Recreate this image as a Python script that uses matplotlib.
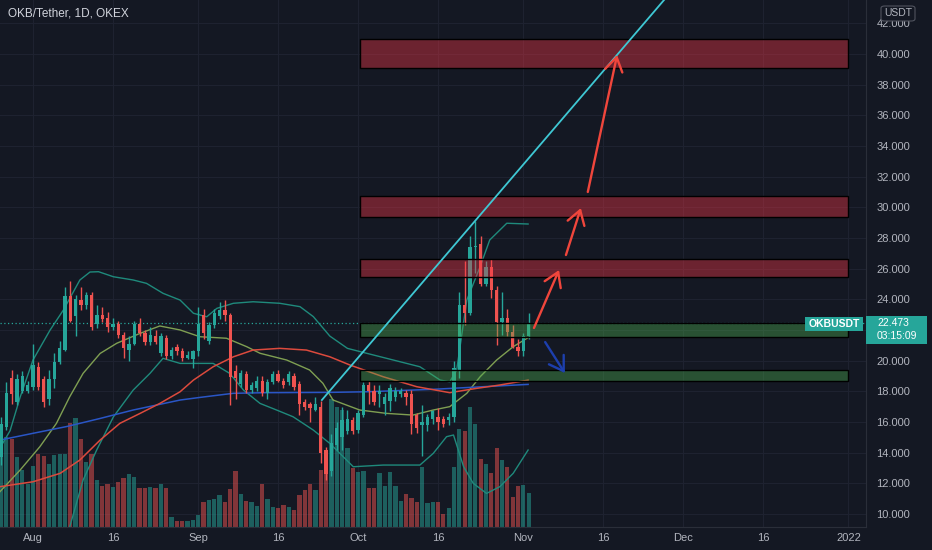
import numpy as np
import matplotlib as mpl
import matplotlib.pyplot as plt
from matplotlib.patches import Rectangle, FancyBboxPatch
from matplotlib.transforms import blended_transform_factory

mpl.rcParams['font.family'] = ['Liberation Sans', 'DejaVu Sans']

#---------------------------------------------------------------------------------------------------
# Data (day index: 0 = 1 Aug 2021)
#---------------------------------------------------------------------------------------------------

days = list(range(-6, 94))
opens = [13.7, 15.7, 18.9, 17.3, 18.0, 18.0, 18.3, 19.6, 18.8, 17.5, 18.8, 19.9, 20.7, 24.2, 22.9, 23.95,
         23.6, 24.3, 22.4, 23.0, 22.8, 22.2, 22.4, 21.7, 20.7, 21.1, 22.4, 21.8, 21.2, 21.6, 20.5, 21.5,
         20.3, 20.9, 20.6, 20.2, 20.1, 20.6, 23.0, 21.3, 22.3, 22.9, 23.3, 23.0, 19.3, 18.5, 19.1, 18.1,
         18.2, 18.7, 17.9, 18.6, 19.1, 18.7, 18.6, 19.0, 18.5, 17.3, 17.2, 16.8, 17.0, 14.2, 12.8, 14.5,
         15.0, 15.4, 16.1, 15.5, 16.45, 18.4, 18.0, 17.8, 17.2, 17.4, 17.65, 17.8, 17.9, 17.8, 16.45, 15.8,
         15.8, 16.2, 16.3, 16.2, 16.1, 16.3, 19.4, 23.6, 23.1, 27.4, 27.6, 25.0, 26.1, 24.6, 22.5, 22.8,
         21.9, 20.9, 20.6, 21.6]
highs = [16.3, 18.6, 19.4, 19.1, 19.3, 18.7, 21.1, 19.9, 19.0, 19.4, 20.5, 21.3, 24.8, 25.2, 24.3, 24.8,
         24.5, 24.5, 23.6, 23.5, 23.2, 22.8, 22.6, 21.9, 21.6, 22.6, 22.8, 22.0, 22.2, 22.0, 21.8, 21.7,
         20.9, 21.1, 20.8, 20.6, 20.7, 23.5, 23.4, 22.5, 23.4, 23.8, 23.95, 23.1, 19.7, 19.4, 19.3, 18.6,
         19.0, 19.0, 18.8, 19.3, 19.4, 18.9, 19.3, 19.2, 18.7, 17.5, 17.3, 17.6, 17.4, 14.4, 15.2, 16.0,
         17.0, 16.8, 16.3, 16.8, 18.6, 18.7, 18.4, 18.4, 17.9, 18.5, 18.3, 18.2, 18.1, 18.1, 16.6, 17.1,
         16.5, 16.8, 16.9, 16.4, 16.6, 20.0, 24.5, 26.5, 28.1, 29.1, 28.1, 26.5, 26.6, 24.9, 24.5, 23.4,
         22.3, 21.4, 21.8, 23.1]
lows = [13.2, 15.5, 17.2, 17.1, 17.9, 17.9, 18.1, 18.1, 17.0, 17.1, 18.2, 19.8, 20.6, 22.5, 21.6, 23.3,
        23.4, 22.0, 22.1, 22.5, 21.9, 22.0, 21.5, 20.2, 20.0, 21.0, 21.6, 21.0, 21.0, 21.1, 20.3, 20.1,
        20.1, 20.4, 20.0, 20.1, 19.5, 20.3, 21.4, 21.1, 22.1, 22.7, 22.6, 17.1, 17.5, 18.3, 17.9, 17.9,
        18.0, 17.7, 17.5, 18.5, 18.6, 18.2, 18.4, 18.1, 16.45, 16.8, 16.0, 16.7, 13.3, 12.2, 12.5, 14.2,
        14.2, 15.2, 15.2, 15.3, 16.3, 17.2, 17.1, 17.0, 16.45, 16.7, 17.4, 17.6, 17.1, 15.2, 15.3, 13.8,
        15.4, 15.9, 15.5, 15.7, 15.8, 16.0, 18.9, 22.3, 23.0, 25.7, 24.9, 24.9, 24.1, 21.0, 21.7, 21.6,
        20.8, 20.3, 20.3, 21.4]
closes = [15.9, 17.9, 17.8, 18.8, 19.0, 18.4, 19.7, 18.3, 17.3, 18.8, 19.9, 20.8, 24.2, 22.6, 24.0, 23.6,
          24.3, 22.2, 23.0, 22.7, 22.2, 22.4, 21.7, 20.8, 21.1, 22.4, 21.8, 21.2, 21.7, 21.2, 21.6, 20.3,
          20.7, 20.6, 20.2, 20.4, 20.6, 22.4, 21.8, 22.3, 23.1, 23.3, 23.0, 18.95, 18.9, 19.2, 18.1, 18.4,
          18.7, 17.9, 18.6, 19.1, 18.7, 18.4, 19.1, 18.3, 17.2, 17.0, 16.9, 17.2, 14.0, 12.6, 14.6, 15.6,
          16.1, 16.2, 15.4, 16.6, 18.4, 18.0, 17.3, 18.0, 17.6, 18.2, 18.0, 18.0, 17.6, 15.9, 15.6, 16.0,
          16.3, 16.7, 16.0, 15.9, 16.3, 19.5, 23.6, 23.1, 27.4, 27.5, 25.0, 26.1, 24.6, 22.5, 22.8, 21.9,
          20.9, 20.6, 21.6, 22.473]
volumes = [210, 270, 265, 210, 172, 130, 182, 218, 212, 188, 215, 218, 220, 312, 328, 265,
           196, 220, 140, 124, 129, 120, 136, 148, 160, 150, 117, 117, 120, 118, 128, 117,
           30, 18, 18, 18, 22, 35, 75, 80, 85, 95, 75, 115, 168, 100, 78, 75,
           62, 130, 85, 60, 58, 65, 60, 52, 95, 110, 130, 112, 170, 200, 383, 360,
           350, 238, 178, 166, 168, 116, 116, 163, 123, 166, 123, 78, 98, 88, 75, 180,
           73, 76, 76, 38, 58, 180, 293, 288, 360, 308, 203, 188, 163, 238, 200, 180,
           90, 123, 126, 103]

# Bollinger bands and moving averages
bb_up_d = [-6.2, -4.3, -2.4, 0, 3.2, 5.7, 8.8, 10.7, 12.3, 15.1, 18.8, 21.3, 24.4, 27.6, 30.1, 32.6, 34.5,
           37.6, 41.3, 46.3, 50.1, 52.6, 55.7, 59, 62.6, 67.6, 72.6, 76.4, 78.2, 79.5, 81.4, 83.9, 85.7, 88.9, 92.9]
bb_up_p = [14.3, 15.43, 17.63, 20.04, 21.99, 23.3, 25.26, 25.78, 25.8, 25.47, 25.26, 25.04, 24.39, 23.95, 23.09,
           22.86, 23.41, 23.74, 23.84, 23.74, 23.52, 22.87, 21.6, 20.8, 20.48, 20.04, 19.6, 18.73, 18.62, 19.39,
           23.95, 26.13, 27.87, 28.96, 28.91]
bb_lo_d = [6.9, 9.4, 11.95, 15.1, 18.8, 21.95, 24.4, 27.6, 30.1, 33.8, 36.9, 39.5, 42.6, 45.7, 48.8, 52.6,
           55.7, 60.1, 65.7, 72.6, 75.1, 77.6, 78.9, 80.8, 82.6, 85.1, 87.6, 90.1, 92.9]
bb_lo_p = [9.17, 12.21, 14.17, 16.34, 18.08, 19.17, 20.15, 19.82, 19.82, 19.82, 19.17, 18.08, 17.21, 16.78,
           16.34, 15.47, 14.6, 13.08, 13.19, 13.19, 13.95, 15.04, 15.15, 13.08, 12.0, 11.34, 11.78, 12.65, 14.17]
basis_d = [-6.2, -2.4, 1.3, 4.4, 6.9, 9.4, 12.6, 15.7, 20.1, 23.8, 27.6, 31.3, 36.3, 40.1, 42.6, 47.6, 51.9,
           54.4, 56.3, 61.3, 66.3, 71.3, 75.1, 78.2, 81.4, 83.9, 87, 90.1, 92.9]
basis_p = [11.45, 12.87, 14.39, 15.91, 17.65, 19.17, 20.47, 21.13, 21.78, 22.26, 22.0, 21.56, 21.46, 20.91,
           20.48, 20.04, 19.39, 18.52, 17.43, 16.78, 16.56, 16.45, 16.78, 17.0, 17.87, 18.95, 20.04, 20.91, 21.5]
ma_red_d = [-6.2, 0, 5.1, 8.8, 12.6, 16.3, 20.1, 23.8, 27.6, 30.1, 33.8, 37.6, 41.3, 46.3, 51.3, 55.7, 59.5,
            65.7, 72, 78.2, 83.2, 87.6, 92.9]
ma_red_p = [11.78, 12.1, 12.65, 13.52, 14.82, 15.91, 16.56, 17.21, 17.97, 18.73, 19.6, 20.25, 20.69, 20.8,
            20.69, 20.25, 19.71, 18.95, 18.3, 17.91, 18.19, 18.41, 18.73]
ma_blue_d = [-6.2, 0, 6.3, 12.6, 18.8, 27.6, 31.3, 37.6, 43.8, 55.7, 62.6, 75.1, 92.9]
ma_blue_p = [14.82, 15.26, 15.7, 16.23, 16.78, 17.43, 17.6, 17.87, 17.91, 17.93, 17.97, 18.13, 18.45]

# drawings
zone_lo = [39.08, 29.40, 25.45, 21.55, 18.68]
zone_hi = [40.98, 30.72, 26.60, 22.45, 19.40]
zone_kind = ['sell', 'sell', 'sell', 'buy', 'buy']
zone_start, zone_end = 61.4, 152.9
trend_d = [54.2, 125.0]
trend_p = [17.43, 46.2]
red_arrows = [((94.0, 22.13), (98.7, 25.91)),
              ((100.0, 26.89), (102.8, 29.95)),
              ((104.1, 31.0), (109.6, 39.93))]
blue_arrow = ((96.1, 21.21), (99.8, 19.19))

last_price = 22.473
price_ticks = list(range(10, 44, 2))
time_ticks = [0, 15, 31, 46, 61, 76, 92, 107, 122, 137, 153]
time_labels = ['Aug', '16', 'Sep', '16', 'Oct', '16', 'Nov', '16', 'Dec', '16', '2022']

#---------------------------------------------------------------------------------------------------
# Style
#---------------------------------------------------------------------------------------------------

BG = '#141823'
GRID = '#1e2230'
TXT = '#b2b5be'
UP = '#26a69a'
DN = '#ef5350'
W, H = 932, 550


def fpos(x, y):
    return x / W, 1 - y / H


fig = plt.figure(figsize=(W / 100, H / 100), dpi=100, facecolor=BG)
rect = [0, 23 / H, 866 / W, 527 / H]
ax_v = fig.add_axes(rect, facecolor=BG)
ax = fig.add_axes(rect, sharex=ax_v)
ax.patch.set_alpha(0)

ax.set_xlim(-6.19, 156.3)
ax.set_ylim(9.15, 43.52)
ax_v.set_ylim(0, 1581)

# grid (behind volume)
gtr = blended_transform_factory(ax_v.transAxes, ax.transData)
for p in price_ticks:
    ax_v.plot([0, 1], [p, p], transform=gtr, color=GRID, lw=0.8, zorder=0)
for t in time_ticks:
    ax_v.axvline(t, color=GRID, lw=0.8, zorder=0)

# volume
vol_cols = [UP if c >= o else DN for o, c in zip(opens, closes)]
ax_v.bar(days, volumes, width=0.8, color=vol_cols, alpha=0.5, zorder=1)
ax_v.set_yticks([])
ax_v.tick_params(axis='x', length=0, labelbottom=False)
for s in ax_v.spines.values():
    s.set_visible(False)

# indicator lines
ax.plot(bb_up_d, bb_up_p, color='#1f8a7c', lw=1.0, zorder=2)
ax.plot(bb_lo_d, bb_lo_p, color='#1f8a7c', lw=1.0, zorder=2)
ax.plot(basis_d, basis_p, color='#7f9f52', lw=1.0, zorder=2)
ax.plot(ma_blue_d, ma_blue_p, color='#2a56c6', lw=1.1, zorder=2)
ax.plot(ma_red_d, ma_red_p, color='#dc4a3d', lw=1.1, zorder=2)

# candles
cols = [UP if c >= o else DN for o, c in zip(opens, closes)]
ax.vlines(days, lows, highs, colors=cols, lw=1.0, zorder=3)
bottoms = [min(o, c) for o, c in zip(opens, closes)]
heights = [max(abs(c - o), 0.08) for o, c in zip(opens, closes)]
ax.bar(days, heights, bottom=bottoms, width=0.62, color=cols, zorder=3)

# last price line
ax.axhline(last_price, color=UP, lw=0.9, ls=(0, (1, 2)), zorder=2)

# zones
for lo, hi, kind in zip(zone_lo, zone_hi, zone_kind):
    fc = (0.95, 0.21, 0.27, 0.40) if kind == 'sell' else (0.30, 0.69, 0.31, 0.38)
    ax.add_patch(Rectangle((zone_start, lo), zone_end - zone_start, hi - lo,
                           facecolor=fc, edgecolor='black', lw=1.0, zorder=4))

# trend line and arrows
ax.plot(trend_d, trend_p, color='#3fc8d4', lw=1.3, zorder=5)
for a, b in red_arrows:
    ax.annotate('', xy=b, xytext=a, zorder=6,
                arrowprops=dict(arrowstyle='->,head_length=0.55,head_width=0.35', color='#f0463c',
                                lw=1.7, mutation_scale=18, shrinkA=0, shrinkB=0))
ax.annotate('', xy=blue_arrow[1], xytext=blue_arrow[0], zorder=6,
            arrowprops=dict(arrowstyle='->,head_length=0.55,head_width=0.35', color='#1d3fae',
                            lw=1.7, mutation_scale=18, shrinkA=0, shrinkB=0))

# axes (22.000 is hidden behind the last-price badge, as on the original)
ax.yaxis.tick_right()
ax.set_yticks(price_ticks)
ax.set_yticklabels(['' if p == 22 else '%.3f' % p for p in price_ticks])
ax.set_xticks(time_ticks)
ax.set_xticklabels(time_labels)
ax.tick_params(axis='y', length=0, pad=7.5, labelsize=8, labelcolor=TXT)
ax.tick_params(axis='x', length=0, pad=4.5, labelsize=8, labelcolor=TXT)
for side in ['top', 'left']:
    ax.spines[side].set_visible(False)
for side in ['right', 'bottom']:
    ax.spines[side].set_color('#2a2e39')

# title
x0, y0 = fpos(8, 14)
fig.text(x0, y0, 'OKB/Tether, 1D, OKEX', color='#d1d4dc', fontsize=8.5, va='center', ha='left')

# USDT badge
bx, by = fpos(881, 21)
fig.patches.append(FancyBboxPatch((bx, by), 34 / W, 15 / H, boxstyle='round,pad=0,rounding_size=0.004',
                                  transform=fig.transFigure, facecolor=BG, edgecolor='#50535e', lw=0.8, zorder=10))
tx, ty = fpos(898, 13.5)
fig.text(tx, ty, 'USDT', color=TXT, fontsize=7.5, ha='center', va='center', zorder=11)

# price labels
px_, py_ = fpos(866, 344)
fig.patches.append(Rectangle((px_, py_), 61 / W, 28 / H, transform=fig.transFigure,
                             facecolor=UP, edgecolor='none', zorder=10))
tx, ty = fpos(877, 323)
fig.text(tx, ty, '%.3f' % last_price, color='white', fontsize=7.5, ha='left', va='center', zorder=11)
tx, ty = fpos(877, 336)
fig.text(tx, ty, '03:15:09', color='white', fontsize=7.5, ha='left', va='center', zorder=11)

ox, oy = fpos(805, 331)
fig.patches.append(Rectangle((ox, oy), 58 / W, 14 / H, transform=fig.transFigure,
                             facecolor=UP, edgecolor='none', zorder=10))
tx, ty = fpos(834, 324)
fig.text(tx, ty, 'OKBUSDT', color='white', fontsize=7.5, fontweight='bold', ha='center', va='center', zorder=11)

fig.savefig('out.png', dpi=100, facecolor=BG)
